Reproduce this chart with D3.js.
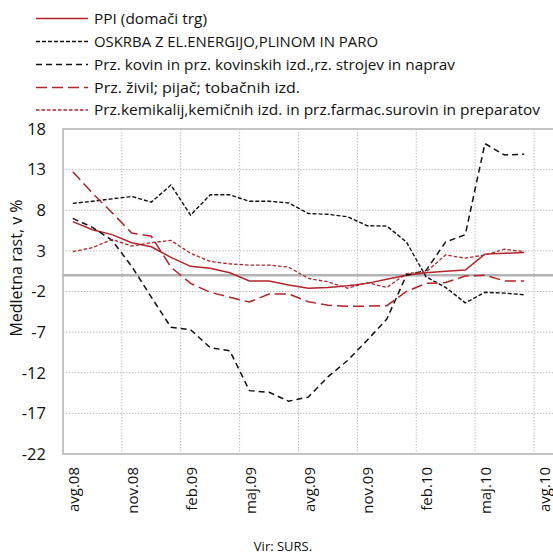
<!DOCTYPE html>
<html>
<head>
<meta charset="utf-8">
<script src="https://cdn.jsdelivr.net/npm/d3@7"></script>
<style>
  body { margin: 0; background: #fff; }
  svg { display: block; font-family: "Open Sans", "Noto Sans", sans-serif; }
</style>
</head>
<body>
<svg width="553" height="554"></svg>
<script>
var months = ["avg.08", "sep.08", "okt.08", "nov.08", "dec.08", "jan.09", "feb.09", "mar.09",
  "apr.09", "maj.09", "jun.09", "jul.09", "avg.09", "sep.09", "okt.09", "nov.09", "dec.09",
  "jan.10", "feb.10", "mar.10", "apr.10", "maj.10", "jun.10", "jul.10", "avg.10"];

var yTicks = [18, 13, 8, 3, -2, -7, -12, -17, -22];

var ppi = [6.6, 5.6, 5.0, 4.0, 3.5, 2.2, 1.1, 0.85, 0.3, -0.7, -0.7, -1.2, -1.6, -1.5, -1.3,
  -1.0, -0.5, 0.0, 0.3, 0.5, 0.65, 2.6, 2.7, 2.8];
var oskrba = [8.85, 9.1, 9.4, 9.7, 9.0, 11.1, 7.4, 9.9, 9.9, 9.1, 9.1, 8.9, 7.6, 7.5, 7.2,
  6.1, 6.05, 4.1, -0.2, -1.5, -3.4, -2.1, -2.2, -2.4];
var kovin = [7.0, 5.9, 4.3, 1.1, -2.7, -6.4, -6.7, -8.9, -9.3, -14.2, -14.4, -15.5, -15.0,
  -12.5, -10.5, -8.0, -5.4, 0.0, 0.6, 4.1, 5.0, 16.2, 14.8, 14.9];
var zivil = [12.75, 10.1, 7.7, 5.2, 4.8, 1.0, -1.0, -2.1, -2.7, -3.3, -2.3, -2.3, -3.25, -3.7,
  -3.8, -3.8, -3.75, -2.0, -1.0, -0.9, -0.1, 0.0, -0.7, -0.7];
var kemik = [2.9, 3.4, 4.4, 3.6, 4.0, 4.3, 2.7, 1.7, 1.4, 1.25, 1.25, 1.0, -0.4, -0.8, -1.6,
  -0.9, -1.5, 0.2, 0.4, 2.5, 2.1, 2.5, 3.2, 2.9];

var red = "#b0242b";

var series = [
  {name: "PPI (domači trg)", values: ppi, color: red, dash: null, w: 1.5, tl: 113},
  {name: "OSKRBA Z EL.ENERGIJO,PLINOM IN PARO", values: oskrba, color: "#111", dash: "4,2", w: 1.4, tl: 284},
  {name: "Prz. kovin in prz. kovinskih izd.,rz. strojev in naprav", values: kovin, color: "#111", dash: "6,4", w: 1.5, tl: 361},
  {name: "Prz. živil; pijač; tobačnih izd.", values: zivil, color: red, dash: "11,5", w: 1.5, tl: 206},
  {name: "Prz.kemikalij,kemičnih izd. in prz.farmac.surovin in preparatov", values: kemik, color: red, dash: "3.5,2", w: 1.3, tl: 446}
];

var svg = d3.select("svg");

var x = d3.scaleBand().domain(months).range([63, 553.6]);
var y = d3.scaleLinear().domain([-22, 18]).range([454, 129]);
var bw = x.bandwidth();

// grid
var grid = svg.append("g");
grid.selectAll(".hg").data(yTicks.filter(function(d) { return d != 18 && d != -22; }))
  .enter().append("line")
  .attr("x1", 63).attr("x2", 553)
  .attr("y1", function(d) { return y(d); }).attr("y2", function(d) { return y(d); })
  .attr("stroke", "#bdbdbd").attr("stroke-dasharray", "1.5,1.5");

var tickMonths = months.filter(function(d, i) { return i % 3 == 0; });
grid.selectAll(".vg").data(tickMonths.slice(1))
  .enter().append("line")
  .attr("x1", function(d) { return x(d); }).attr("x2", function(d) { return x(d); })
  .attr("y1", 129).attr("y2", 454)
  .attr("stroke", "#bdbdbd").attr("stroke-dasharray", "1.5,1.5");

// frame + zero
grid.append("line").attr("x1", 63).attr("x2", 553).attr("y1", y(18)).attr("y2", y(18))
  .attr("stroke", "#c4c4c4").attr("stroke-width", 2);
grid.append("line").attr("x1", 63).attr("x2", 553).attr("y1", y(-22)).attr("y2", y(-22))
  .attr("stroke", "#c4c4c4").attr("stroke-width", 2);
grid.append("line").attr("x1", 63).attr("x2", 63).attr("y1", 128).attr("y2", 455)
  .attr("stroke", "#c4c4c4").attr("stroke-width", 2);
grid.append("line").attr("x1", 63).attr("x2", 553).attr("y1", y(0)).attr("y2", y(0))
  .attr("stroke", "#b4b4b4").attr("stroke-width", 2.5);

// lines
var line = d3.line()
  .x(function(d, i) { return x(months[i]) + bw / 2; })
  .y(function(d) { return y(d); });

svg.append("g").selectAll("path").data(series).enter().append("path")
  .attr("d", function(s) { return line(s.values); })
  .attr("fill", "none")
  .attr("stroke", function(s) { return s.color; })
  .attr("stroke-width", function(s) { return s.w; })
  .attr("stroke-dasharray", function(s) { return s.dash; });

// y axis labels
svg.append("g").selectAll("text").data(yTicks).enter().append("text")
  .attr("x", 46).attr("y", function(d) { return y(d); })
  .attr("dy", "0.35em").attr("text-anchor", "end")
  .style("font-size", "16.5px").attr("fill", "#111")
  .text(function(d) { return d; });

svg.append("text")
  .attr("transform", "translate(16,268) rotate(-90)")
  .attr("text-anchor", "middle").attr("dy", "0.35em")
  .style("font-size", "16px").attr("fill", "#111")
  .text("Medletna rast, v %");

// x axis labels
svg.append("g").selectAll("text").data(tickMonths).enter().append("text")
  .attr("transform", function(d) { return "translate(" + (x(d) + bw / 2 + 1) + ",467) rotate(-90)"; })
  .attr("text-anchor", "end").attr("dy", "0.35em")
  .style("font-size", "15px").attr("fill", "#111")
  .text(function(d) { return d; });

// legend
var legY = [18.5, 41.5, 64.5, 87.5, 110];
var leg = svg.append("g").selectAll("g").data(series).enter().append("g")
  .attr("transform", function(s, i) { return "translate(0," + legY[i] + ")"; });
leg.append("line").attr("x1", 36).attr("x2", 88)
  .attr("stroke", function(s) { return s.color; })
  .attr("stroke-width", function(s) { return s.w; })
  .attr("stroke-dasharray", function(s) { return s.dash; });
leg.append("text").attr("x", 94).attr("dy", "0.35em")
  .style("font-size", "15px").attr("fill", "#111")
  .attr("textLength", function(s) { return s.tl; })
  .attr("lengthAdjust", "spacingAndGlyphs")
  .text(function(s) { return s.name; });

svg.append("text").attr("x", 283).attr("y", 546).attr("text-anchor", "middle")
  .attr("dy", "0.35em").style("font-size", "13px").attr("fill", "#111")
  .text("Vir: SURS.");
</script>
</body>
</html>
